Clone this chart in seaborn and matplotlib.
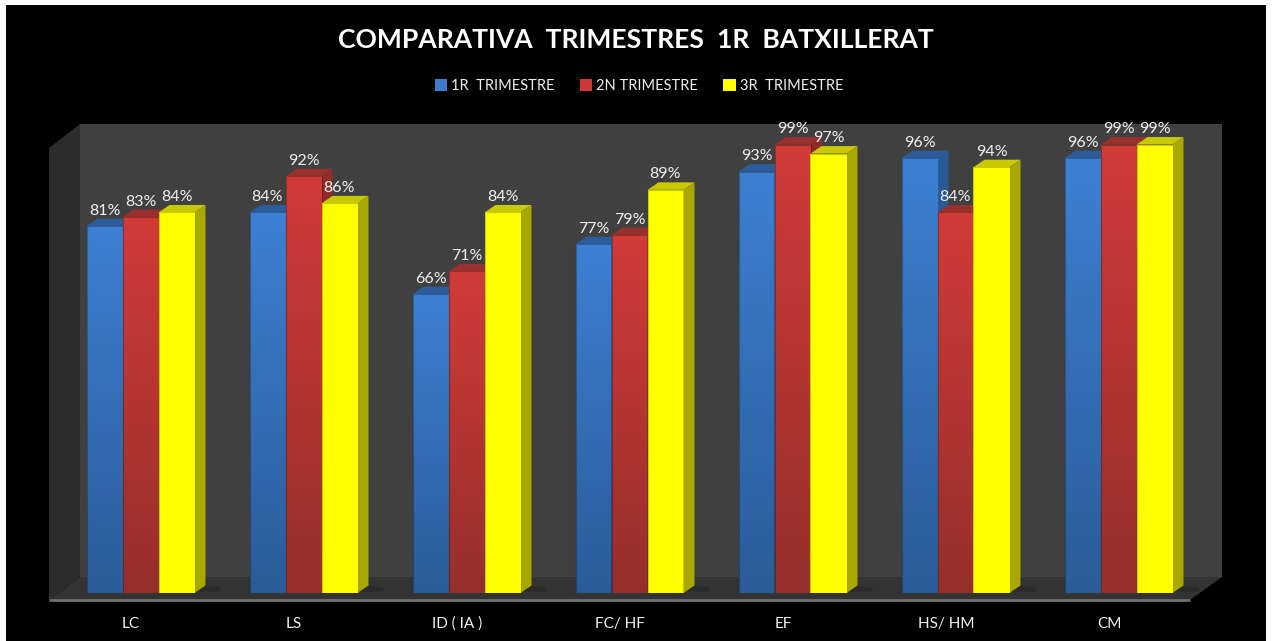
import numpy as np
import pandas as pd
import matplotlib
matplotlib.use('Agg')
import matplotlib.pyplot as plt
import seaborn as sns
from matplotlib.colors import LinearSegmentedColormap
from matplotlib.patches import Polygon, Rectangle

subjects = ['LC', 'LS', 'ID ( IA )', 'FC/ HF', 'EF', 'HS/ HM', 'CM']
terms = ['1R  TRIMESTRE', '2N TRIMESTRE', '3R  TRIMESTRE']
term1 = [81, 84, 66, 77, 93, 96, 96]
term2 = [83, 92, 71, 79, 99, 84, 99]
term3 = [84, 86, 84, 89, 97, 94, 99]

W, H = 1272, 641
sns.set_theme(style='white')
plt.rcParams['font.family'] = ['Lato', 'DejaVu Sans']

df = pd.DataFrame({'subject': subjects * 3,
                   'term': np.repeat(terms, 7),
                   'value': term1 + term2 + term3})

fig = plt.figure(figsize=(W / 100, H / 100), dpi=100, facecolor='white')

# backdrop in pixel coords: black card, walls, floor
bg = fig.add_axes([0, 0, 1, 1], zorder=0)
bg.set_xlim(0, W)
bg.set_ylim(H, 0)
bg.axis('off')
bg.add_patch(Rectangle((6, 5), 1260, 636, color='black', lw=0))
bg.add_patch(Polygon([(80, 124), (1222, 124), (1222, 577), (80, 577)], color='#404040', lw=0))
bg.add_patch(Polygon([(49, 148), (80, 124), (80, 577), (49, 600)], color='#2c2c2c', lw=0))
bg.add_patch(Polygon([(49, 600), (80, 577), (1222, 577), (1190, 600)], color='#333333', lw=0))
bg.plot([49, 1190], [600, 600], color='#707070', lw=2, solid_capstyle='butt')

# bars axes, 0 sits on y=593
left, right, bottom, top = 59, 1200, 593, 124
ax = fig.add_axes([left / W, 1 - bottom / H, (right - left) / W, (bottom - top) / H], zorder=1)
ax.patch.set_alpha(0)
px_per_val = 4.53
ymax = (bottom - top) / px_per_val

sns.barplot(data=df, x='subject', y='value', hue='term', ax=ax, width=108 / 163, gap=0,
            palette=['#3a7bcc', '#cb3a37', '#ffff00'], saturation=1, legend=True)
sns.despine(ax=ax, left=True, bottom=True)
ax.set_xlabel('')
ax.set_ylabel('')
ax.set_yticks([])

handles, labels = ax.get_legend_handles_labels()
for h in handles:
    h.set_edgecolor('none')
leg = ax.legend(handles, labels, ncol=3, frameon=False, loc='center',
                bbox_to_anchor=(639 / W, 1 - 86 / H), bbox_transform=fig.transFigure,
                fontsize=10.5, labelcolor='#f0f0f0', handlelength=0.85, handleheight=0.85,
                handletextpad=0.25, columnspacing=1.75)

tops = ['#2c5c9a', '#98302d', '#c9c900']
sides = ['#2a5a96', '#8f2c29', '#a8a800']
grads = [('#3d80d3', '#2b5c99'), ('#d03b38', '#962f2c'), ('#ffff00', '#ffff00')]
edges = [(0, 0, 0, 0.25), (0, 0, 0, 0.25), (0.6, 0.6, 0, 0.5)]
dx = 11 / 163
dy = 7.5 / px_per_val
shadow_w = 26 / 163

for k, cont in enumerate(ax.containers):
    cmap = LinearSegmentedColormap.from_list('g', grads[k])
    for bar in cont:
        x0, w, h = bar.get_x(), bar.get_width(), bar.get_height()
        z = 3 + k
        # faint dark smear on the floor right of each group
        if k == 2:
            ax.add_patch(Polygon([(x0 + w, 0.3), (x0 + w + shadow_w, 0.3), (x0 + w + shadow_w, 1.2), (x0 + w + dx, dy)],
                                 color='#2a2a2a', alpha=0.8, lw=0, zorder=1, clip_on=False))
        ax.add_patch(Polygon([(x0, h), (x0 + w, h), (x0 + w + dx, h + dy), (x0 + dx, h + dy)],
                             color=tops[k], lw=0, zorder=z, clip_on=False))
        ax.add_patch(Polygon([(x0 + w, 0), (x0 + w + dx, dy), (x0 + w + dx, h + dy), (x0 + w, h)],
                             color=sides[k], lw=0, zorder=z, clip_on=False))
        im = ax.imshow(np.linspace(0, 1, 64).reshape(-1, 1), cmap=cmap, aspect='auto',
                       extent=(x0, x0 + w, 0, h), origin='upper', zorder=z + 0.1)
        im.set_clip_path(bar)
        bar.set_facecolor('none')
        bar.set_edgecolor(edges[k])
        bar.set_linewidth(0.8)
        bar.set_zorder(z + 0.2)
    ax.bar_label(cont, fmt='%d%%', padding=6, color='#f0f0f0', fontsize=11.5, zorder=10)

ax.set_xlim(-0.5, 6.5)
ax.set_ylim(0, ymax)

# category labels sit under the front edge, not under the bars
ax.set_xticks(np.arange(7) - 9.5 / 163, subjects)
ax.tick_params(axis='x', length=0, pad=17, labelsize=11, labelcolor='#f0f0f0')

fig.text(635.5 / W, 1 - 39.5 / H, 'COMPARATIVA  TRIMESTRES  1R  BATXILLERAT', color='white',
         fontsize=19.1, fontweight='bold', ha='center', va='center')

fig.savefig('out.png', dpi=100, facecolor='white')
